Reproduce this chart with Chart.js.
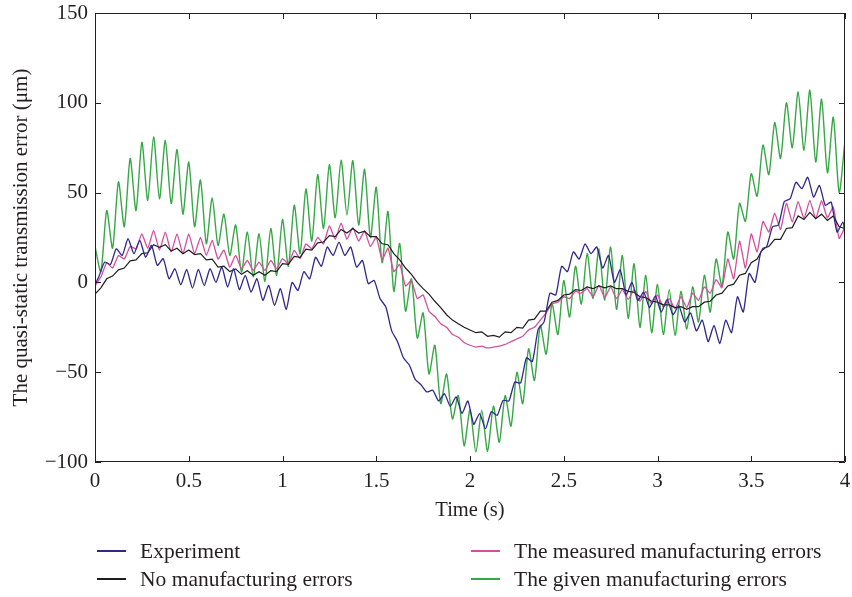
<!DOCTYPE html>
<html>
<head>
<meta charset="utf-8">
<title>Quasi-static transmission error</title>
<script src="https://cdn.jsdelivr.net/npm/chart.js@4.4.1/dist/chart.umd.min.js"></script>
<style>
    html, body { margin: 0; padding: 0; background: #fff; }
    #wrap { position: relative; width: 852px; height: 597px; }
    #legend { position: absolute; left: 0; top: 0; font-family: 'Liberation Serif', 'DejaVu Serif', serif; font-size: 21.5px; color: #231f20; }
    .legend-item { position: absolute; height: 24px; line-height: 24px; white-space: nowrap; }
    .legend-item .swatch { position: absolute; left: 0; top: 11px; width: 29px; height: 2px; }
    .legend-item .text { position: absolute; left: 43px; top: 0; }
</style>
</head>
<body>
<div id="wrap">
    <canvas id="chart" width="852" height="597"></canvas>
    <div id="legend"></div>
</div>
<script>
var STEP = 4 / 128;     // readings taken every half ripple period (s)
var EXP_SHIFT = 0.02;   // the measured ripple lags the simulated one (s)

var xTicks = [0, 0.5, 1, 1.5, 2, 2.5, 3, 3.5, 4];
var yTicks = [-100, -50, 0, 50, 100, 150];

var seriesNames = ['Experiment', 'No manufacturing errors', 'The measured manufacturing errors', 'The given manufacturing errors'];

// given manufacturing errors: ripple tops (t = 0, 2 STEP, ...) and bottoms in between (um)
var givenPeaks = [20, 40, 56, 69, 78, 81, 79, 74, 67, 57, 47, 38, 32, 28, 27, 30, 35, 43, 52, 60,
    65.5, 68, 67.8, 63, 53, 39.5, 21.7, 2, -17, -35, -51, -63, -71, -71.3, -69, -63, -50, -37, -24, -12,
    1, 9, 16, 18.7, 19.7, 15, 10.4, 3.9, -1, -4, -5, -2.5, 4, 13, 28, 44, 60.5, 76.5, 89, 100,
    106, 107, 102, 92, 79];
var givenTroughs = [6, 19, 31, 40, 45.7, 46.6, 44, 38, 31, 21.5, 20.6, 15, 5.7, 3, 0.5, 3.9, 9, 16, 23, 30,
    36, 37.5, 32, 25, 11, -5, -16, -31, -51, -67.5, -76, -91, -94.5, -94, -89, -80, -67.5, -54.6, -40, -29,
    -19.3, -12, -9, -10, -15, -20, -25, -28, -29, -29.5, -26, -22, -16.5, -2, 13, 34, 48, 60, 69, 75,
    73.5, 67, 61, 50];

// measured manufacturing errors, same sampling as above
var measuredPeaks = [-2, 11, 15, 20, 27, 29, 28, 27, 27, 25, 23.4, 18, 15, 12.2, 11.3, 12.2, 13.2, 17.8, 21.5, 25,
    31.5, 33, 30.5, 28.5, 25.2, 19, 10, 1, -7, -19, -25, -30.5, -35, -35.5, -36, -34.5, -31.5, -26.5, -21, -12,
    -8, -5, -3.5, -1.7, -2.5, -4, -4, -5, -7, -9, -8, -6, -2.5, 1.5, 13, 23, 27, 34, 38.5, 44,
    45, 45.7, 45.5, 42, 31];
var measuredTroughs = [3, 8, 13, 18.7, 19, 18, 17, 16, 16, 15, 13, 8.5, 7.6, 6.7, 6.7, 7.6, 10.4, 13.2, 18.7, 21.5,
    24, 24, 23, 20, 12.5, 6, -2, -9, -16, -23, -29, -33.5, -36, -36.5, -35.5, -33, -30, -25, -17, -11,
    -9, -6, -8, -8.5, -9, -9.5, -10.5, -12, -13.7, -14.7, -14, -10, -6, -3, 2, 8, 17, 28, 29.5, 33.6,
    35.5, 35.5, 36, 24.5];

// no manufacturing errors, every STEP from t = 0
var noErrors = [-6.5, -3, 2, 3.5, 7, 8, 12, 12.5, 16, 16.5,
    21, 19.5, 21, 17.5, 19, 16, 18, 15.5, 16, 12.5,
    13, 8.5, 9, 6, 7.5, 4.5, 6.5, 4, 6, 4,
    6.5, 6, 10.5, 10, 14.5, 14, 18.5, 18, 22, 22.5,
    26, 25.5, 29.5, 27.5, 30, 27.5, 28.5, 25.5, 25.5, 21.5,
    21, 16, 12.5, 8, 4.5, 0, -3.5, -6.5, -10.5, -14,
    -18, -21, -23, -25, -26.5, -28, -27.5, -30, -29.5, -30.5,
    -27.5, -28, -25, -25.5, -21, -20.5, -16, -16, -11, -10,
    -7, -6.5, -4, -4.5, -2.5, -3.5, -2, -3, -2, -3.5,
    -3.5, -5, -5.5, -8, -8.5, -10.5, -11, -12.5, -12.5, -14,
    -13.5, -15, -13.5, -13.5, -11, -10.5, -7, -6, -2, -1,
    4, 5, 11, 13, 19, 20, 24, 24, 30, 30.5,
    37, 35, 39, 35.5, 38, 34.5, 37, 31, 30];

// experiment: bottoms at EXP_SHIFT + 2k STEP, tops one STEP later
var expStart = -1;
var expEnd = 27;
var expTroughs = [3, 10, 15, 16, 14, 9.5, 2, -1.3, -3.2, -1.7, 0, -2.6, -4, -5.4, -10, -12.8, -15, -4.5, 2, 9,
    15, 15, 8.5, -0.7, -9, -27, -42, -54, -61, -66, -69, -73, -79, -81.5, -74, -66, -56, -44, -22, -7,
    6, 13, 16, 8, 0, -7, -10, -14, -16.5, -18, -22, -27, -33, -34, -28, -16.5, 0, 20, 32, 46.6,
    52.2, 47.5, 42.9, 28];
var expPeaks = [11.3, 18.7, 24.3, 23.4, 20.6, 13.2, 7.6, 7.2, 7.2, 7.6, 8.5, 7.6, 3.9, 2, -1.7, -3.5, 0, 6, 14, 19.7,
    22.4, 19.7, 12.2, 1.1, -13.7, -33, -46, -57, -60, -62, -63.8, -66, -73, -72, -65.7, -55.5, -42, -26, -6, 9,
    17, 21.5, 19.7, 15, 7, 0, -5.5, -7.5, -9.5, -13, -17, -21, -24, -21, -8, 5, 17, 31, 45, 55.8,
    58.6, 54, 44.7, 33.6];

/**
 * Zip two lists of ripple extremes into one list of points.
 * @param {number[]} first - values at even samples
 * @param {number[]} second - values at odd samples
 * @param {number} t0 - time of the first sample
 */
function interleave(first, second, t0) {
    var pts = [];
    for (var i = 0; i < first.length + second.length; i++) {
        var v = (i % 2 === 0) ? first[i / 2] : second[(i - 1) / 2];
        pts.push({x: t0 + i * STEP, y: v});
    }
    return pts;
}

function sampled(values) {
    return values.map(function(v, i) { return {x: i * STEP, y: v}; });
}

var expPoints = [{x: 0, y: expStart}].concat(interleave(expTroughs, expPeaks, EXP_SHIFT), [{x: 4, y: expEnd}]);

var FAMILY = "'Liberation Serif', 'DejaVu Serif', serif";
var INK = '#231f20';

function minusSign(v) {
    return String(v).replace('-', '\u2212');
}

// box round the plot with short ticks pointing inwards on all four sides
var frameTicks = {
    id: 'frameTicks',
    afterDatasetsDraw: function(chart) {
        var a = chart.chartArea, ctx = chart.ctx;
        var xs = chart.scales.x, ys = chart.scales.y;
        var len = 6;
        ctx.save();
        ctx.strokeStyle = INK;
        ctx.lineWidth = 1;
        ctx.beginPath();
        ctx.rect(a.left + 0.5, a.top + 0.5, a.right - a.left - 1, a.bottom - a.top - 1);
        xTicks.forEach(function(v) {
            var px = Math.round(xs.getPixelForValue(v)) + 0.5;
            ctx.moveTo(px, a.bottom); ctx.lineTo(px, a.bottom - len);
            ctx.moveTo(px, a.top); ctx.lineTo(px, a.top + len);
        });
        yTicks.forEach(function(v) {
            var py = Math.round(ys.getPixelForValue(v)) + 0.5;
            ctx.moveTo(a.left, py); ctx.lineTo(a.left + len, py);
            ctx.moveTo(a.right, py); ctx.lineTo(a.right - len, py);
        });
        ctx.stroke();
        ctx.restore();
    }
};

var ctx = document.getElementById('chart').getContext('2d');
var chart = new Chart(ctx, {
    type: 'line',
    data: {
        datasets: [{
            label: seriesNames[0],
            data: expPoints,
            borderColor: '#30278a',
            borderWidth: 1.3,
            tension: 0.2
        }, {
            label: seriesNames[1],
            data: sampled(noErrors),
            borderColor: '#1e1e1e',
            borderWidth: 1.2
        }, {
            label: seriesNames[2],
            data: interleave(measuredPeaks, measuredTroughs, 0),
            borderColor: '#d24f9f',
            borderWidth: 1.3,
            tension: 0.15
        }, {
            label: seriesNames[3],
            data: interleave(givenPeaks, givenTroughs, 0),
            borderColor: '#36a845',
            borderWidth: 1.4,
            tension: 0.25
        }]
    },
    options: {
        responsive: false,
        animation: false,
        elements: {
            point: {radius: 0},
            line: {tension: 0, fill: false}
        },
        layout: {padding: {top: 13, right: 7, bottom: 60, left: 0}},
        plugins: {legend: {display: false}, tooltip: {enabled: false}},
        scales: {
            x: {
                type: 'linear',
                min: 0,
                max: 4,
                grid: {display: false, drawTicks: false},
                border: {display: false},
                afterBuildTicks: function(axis) {
                    axis.ticks = xTicks.map(function(v) { return {value: v}; });
                },
                afterFit: function(axis) {
                    axis.height = 75;
                    axis.paddingLeft = 0;
                    axis.paddingRight = 0;
                },
                ticks: {
                    font: {family: FAMILY, size: 21},
                    color: INK,
                    padding: 7,
                    maxRotation: 0,
                    callback: function(v) { return minusSign(v); }
                },
                title: {
                    display: true,
                    text: 'Time (s)',
                    font: {family: FAMILY, size: 20.5},
                    color: INK,
                    padding: {top: 0, bottom: 14}
                }
            },
            y: {
                type: 'linear',
                min: -100,
                max: 150,
                grid: {display: false, drawTicks: false},
                border: {display: false},
                afterBuildTicks: function(axis) {
                    axis.ticks = yTicks.map(function(v) { return {value: v}; });
                },
                afterFit: function(axis) {
                    axis.width = 95;
                    axis.paddingTop = 0;
                    axis.paddingBottom = 0;
                },
                ticks: {
                    font: {family: FAMILY, size: 21},
                    color: INK,
                    padding: 7,
                    callback: function(v) { return minusSign(v); }
                },
                title: {
                    display: true,
                    text: 'The quasi-static transmission error (\u03bcm)',
                    font: {family: FAMILY, size: 21},
                    color: INK,
                    padding: {top: 9, bottom: 0}
                }
            }
        }
    },
    plugins: [frameTicks]
});

// legend in two columns under the axis title
var legendSlots = [[97, 539], [97, 567], [471, 539], [471, 567]];
var legendBox = document.getElementById('legend');
chart.data.datasets.forEach(function(ds, i) {
    var item = document.createElement('div');
    item.className = 'legend-item';
    item.style.left = legendSlots[i][0] + 'px';
    item.style.top = legendSlots[i][1] + 'px';
    item.innerHTML = '<span class="swatch" style="background:' + ds.borderColor + '"></span>' +
        '<span class="text">' + ds.label + '</span>';
    legendBox.appendChild(item);
});
</script>
</body>
</html>
